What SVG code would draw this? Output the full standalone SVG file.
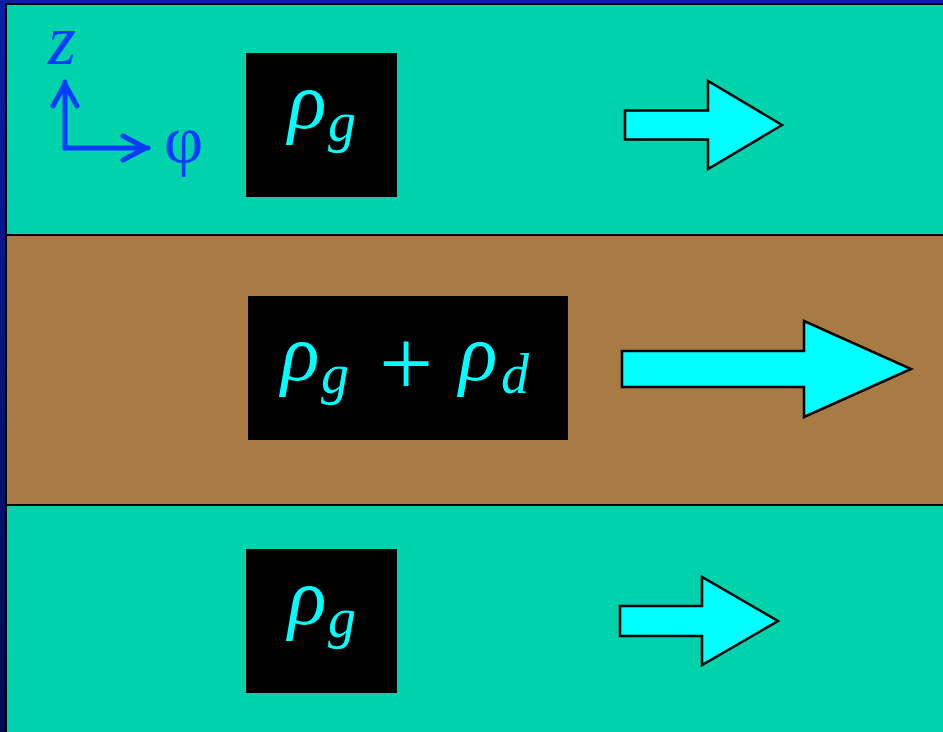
<svg xmlns="http://www.w3.org/2000/svg" width="943" height="732" viewBox="0 0 943 732">
<defs>
<linearGradient id="bg" x1="0" y1="0" x2="0" y2="1">
<stop offset="0" stop-color="#0B1EA6"/>
<stop offset="1" stop-color="#020A50"/>
</linearGradient>
<style>
.gas{fill:#00D2AC;}
.dust{fill:#A87A44;}
.box{fill:#000;}
.flow{fill:#00FFFF;stroke:#000;stroke-width:2.5;stroke-linejoin:miter;}
.math{font-family:"Liberation Serif","DejaVu Serif",serif;font-style:italic;fill:#00FFFF;font-size:80px;}
.sub{font-size:56px;}
.op{font-style:normal;font-size:96px;}
.ax{stroke:#0A3CFF;stroke-width:5;fill:none;stroke-linecap:round;stroke-linejoin:miter;}
.axl{font-family:"Liberation Serif","DejaVu Serif",serif;fill:#0A3CFF;}
</style>
</defs>
<rect x="0" y="0" width="943" height="732" fill="url(#bg)"/>
<rect x="5" y="3" width="938" height="729" fill="#000"/>
<g id="layers">
<rect class="gas" x="7" y="5" width="936" height="229"/>
<rect class="dust" x="7" y="236" width="936" height="268"/>
<rect class="gas" x="7" y="506" width="936" height="226"/>
</g>
<g id="axes">
<path class="ax" d="M65,148 V82 M53,106 L65,84 L77,106"/>
<path class="ax" d="M65,148 H148 M123,136 L146,148 L123,160"/>
<text class="axl" x="48" y="64" font-size="72" font-style="italic">z</text>
<text class="axl" x="164" y="163" font-size="68">φ</text>
</g>
<g id="node-top">
<rect class="box" x="246" y="53" width="151" height="144"/>
<text class="math" y="128"><tspan x="288">ρ</tspan><tspan class="sub" x="328" y="141">g</tspan></text>
</g>
<g id="node-middle">
<rect class="box" x="248" y="296" width="320" height="144"/>
<text class="math" y="380"><tspan x="281">ρ</tspan><tspan class="sub" x="321" y="393">g</tspan><tspan class="op" x="379" y="395">+</tspan><tspan x="459" y="380">ρ</tspan><tspan class="sub" x="501" y="393">d</tspan></text>
</g>
<g id="node-bottom">
<rect class="box" x="246" y="549" width="151" height="144"/>
<text class="math" y="624"><tspan x="288">ρ</tspan><tspan class="sub" x="328" y="637">g</tspan></text>
</g>
<g id="connectors">
<polygon class="flow" points="625,110.5 708,110.5 708,81 782,125 708,169 708,139.5 625,139.5"/>
<polygon class="flow" points="622,351 804,351 804,321 911,369 804,417 804,387 622,387"/>
<polygon class="flow" points="620,606 702,606 702,577 778,621 702,665 702,636 620,636"/>
</g>
</svg>
